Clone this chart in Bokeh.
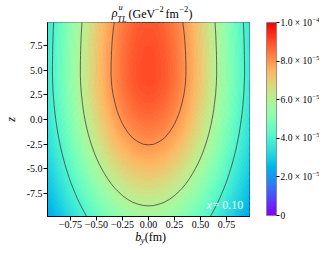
import math
import numpy as np
from bokeh.plotting import figure
from bokeh.plotting.contour import contour_data
from bokeh.models import Range1d, FixedTicker, ColorBar, LinearColorMapper, Label
from bokeh.embed import file_html
from bokeh.resources import INLINE

# ---- data (density in units of 1e-5 GeV^-2 fm^-2) ----
b_y = [-1.0, -0.95, -0.9, -0.85, -0.8, -0.75, -0.7, -0.65, -0.6, -0.55, -0.5,
       -0.45, -0.4, -0.35, -0.3, -0.25, -0.2, -0.15, -0.1, -0.05, 0.0,
       0.05, 0.1, 0.15, 0.2, 0.25, 0.3, 0.35, 0.4, 0.45, 0.5,
       0.55, 0.6, 0.65, 0.7, 0.75, 0.8, 0.85, 0.9, 0.95, 1.0]
rel_by = [0.382, 0.420, 0.459, 0.499, 0.540, 0.582, 0.624, 0.666, 0.708, 0.748, 0.787,
          0.823, 0.857, 0.889, 0.917, 0.942, 0.962, 0.979, 0.990, 0.998, 1.0,
          0.998, 0.990, 0.979, 0.962, 0.942, 0.917, 0.889, 0.857, 0.823, 0.787,
          0.748, 0.708, 0.666, 0.624, 0.582, 0.540, 0.499, 0.459, 0.420, 0.382]
z_vals = [-10, -9.5, -9, -8.5, -8, -7.5, -7, -6.5, -6, -5.5, -5, -4.5, -4, -3.5, -3,
          -2.5, -2, -1.5, -1, -0.5, 0, 0.5, 1, 1.5, 2, 2.5, 3, 3.5, 4, 4.5, 5,
          5.5, 6, 6.5, 7, 7.5, 8, 8.5, 9, 9.5, 10]
rho_b0 = [5.55, 5.74, 5.92, 6.10, 6.28, 6.45, 6.63, 6.80, 6.97, 7.13, 7.29, 7.45, 7.60, 7.75, 7.89,
          8.02, 8.15, 8.27, 8.38, 8.48, 8.58, 8.67, 8.75, 8.82, 8.88, 8.94, 8.98, 9.02, 9.04, 9.06, 9.06,
          9.06, 9.05, 9.04, 9.03, 9.01, 8.99, 8.97, 8.94, 8.91, 8.87]
line_levels = [4.0, 6.0, 8.0]
x_ticks = [-0.75, -0.5, -0.25, 0.0, 0.25, 0.5, 0.75]
x_tick_labels = ["\u22120.75", "\u22120.50", "\u22120.25", "0.00", "0.25", "0.50", "0.75"]
y_ticks = [-7.5, -5.0, -2.5, 0.0, 2.5, 5.0, 7.5]
y_tick_labels = ["-7.5", "-5.0", "-2.5", "0.0", "2.5", "5.0", "7.5"]
cb_ticks = [0, 2, 4, 6, 8, 10]
cb_mantissa = ["0", "2.0 \u00d7 10", "4.0 \u00d7 10", "6.0 \u00d7 10", "8.0 \u00d7 10", "1.0 \u00d7 10"]
cb_exponent = ["", "\u22125", "\u22125", "\u22125", "\u22125", "\u22124"]
title_parts = ["\u03c1", "u", "TL", "(GeV", "\u22122", "fm", "\u22122", ")"]
x_label_parts = ["b", "y", "(fm)"]
y_label = "z"
x_value_parts = ["x", "= 0.10"]

FONT = "Liberation Serif"
FIG_W, FIG_H = 319, 245
LEFT, TOP, FRAME_W, FRAME_H = 41, 22, 208, 194
MID_K = 0.35   # baseline minus vertical centre of a text box, in font sizes


def rainbow(t):
    t = min(max(t, 0.0), 1.0)
    r = min(max(abs(2 * t - 0.5), 0.0), 1.0)
    g = min(max(math.sin(math.pi * t), 0.0), 1.0)
    b = min(max(math.cos(math.pi * t / 2), 0.0), 1.0)
    return "#%02x%02x%02x" % (int(round(r * 255)), int(round(g * 255)), int(round(b * 255)))


grid = np.outer(np.array(rho_b0), np.array(rel_by))

p = figure(width=FIG_W, height=FIG_H, output_backend="svg", toolbar_location=None,
           x_range=Range1d(-0.97, 0.97), y_range=Range1d(-9.86, 9.86),
           min_border_left=LEFT, min_border_right=FIG_W - LEFT - FRAME_W,
           min_border_top=TOP, min_border_bottom=FIG_H - TOP - FRAME_H)
p.title.visible = False
p.background_fill_color = "white"
p.border_fill_color = "white"
p.outline_line_color = "black"
p.outline_line_width = 1
p.grid.visible = False

# filled field
fill_levels = list(np.linspace(0, 10, 121))
cd = contour_data(np.array(b_y), np.array(z_vals), grid, fill_levels, want_fill=True, want_line=False)
fd = cd.fill_data
band_colors = [rainbow((lo + up) / 20.0) for lo, up in zip(fd.lower_levels, fd.upper_levels)]
p.multi_polygons(xs=fd.xs, ys=fd.ys, fill_color=band_colors, line_color=band_colors, line_width=0.8)
# contour lines
p.contour(np.array(b_y), np.array(z_vals), grid, line_levels, fill_color=None,
          line_color="#2a2a2a", line_width=0.8, line_alpha=0.85)

# main axes
for ax, ticks, labels, so in ((p.xaxis[0], x_ticks, x_tick_labels, 0), (p.yaxis[0], y_ticks, y_tick_labels, 1)):
    ax.ticker = FixedTicker(ticks=ticks)
    ax.major_label_overrides = dict(zip(ticks, labels))
    ax.major_tick_out = 4
    ax.major_tick_in = 0
    ax.minor_tick_line_color = None
    ax.major_tick_line_color = "black"
    ax.axis_line_color = "black"
    ax.major_label_text_font = FONT
    ax.major_label_text_font_size = "10px"
    ax.major_label_text_color = "black"
    ax.major_label_standoff = so

p.yaxis[0].axis_label = y_label
p.yaxis[0].axis_label_text_font = FONT
p.yaxis[0].axis_label_text_font_size = "12px"
p.yaxis[0].axis_label_text_font_style = "italic"
p.yaxis[0].axis_label_text_color = "black"
p.yaxis[0].axis_label_standoff = 6

# colour bar
CB_X, CB_Y, CB_W, CB_H = FRAME_W + 11, 1, 10, FRAME_H - 1
mapper = LinearColorMapper(palette=[rainbow(i / 255.0) for i in range(256)], low=0, high=10)
cb = ColorBar(color_mapper=mapper, location=(CB_X, CB_Y), width=CB_W, height=CB_H,
              padding=0, margin=0, ticker=FixedTicker(ticks=cb_ticks),
              major_label_overrides=dict(zip(cb_ticks, cb_mantissa)),
              major_label_text_font=FONT, major_label_text_font_size="9.5px",
              major_label_text_color="black",
              major_tick_out=3, major_tick_in=0, major_tick_line_color="black",
              minor_tick_line_color=None, label_standoff=1,
              bar_line_color="#808080", bar_line_width=0.8,
              background_fill_color=None, border_line_color=None)
p.add_layout(cb, "center")
cb_exp = ColorBar(color_mapper=mapper, location=(CB_X, CB_Y + 3), width=CB_W, height=CB_H,
                  padding=0, margin=0, ticker=FixedTicker(ticks=cb_ticks),
                  major_label_overrides=dict(zip(cb_ticks, cb_exponent)),
                  major_label_text_font=FONT, major_label_text_font_size="6.5px",
                  major_label_text_color="black", scale_alpha=0.0,
                  major_tick_out=0, major_tick_in=0, major_tick_line_color=None,
                  minor_tick_line_color=None, label_standoff=36,
                  bar_line_color=None, background_fill_color=None, border_line_color=None)
p.add_layout(cb_exp, "center")

# free texts outside the frame: one left-aligned label per piece, hung on an invisible colour bar
blank = LinearColorMapper(palette=["#ffffff"], low=0, high=2)


def put_text(text, left, baseline, size, style="normal"):
    # left, baseline in canvas pixels
    mid = baseline - MID_K * size
    loc_x = left - 1 - LEFT
    loc_y = (TOP + FRAME_H) - mid - 1
    t = ColorBar(color_mapper=blank, location=(loc_x, loc_y), width=1, height=2,
                 padding=0, margin=0, ticker=FixedTicker(ticks=[1]),
                 major_label_overrides={1: text},
                 major_label_text_font=FONT, major_label_text_font_size="%gpx" % size,
                 major_label_text_font_style=style, major_label_text_color="black",
                 scale_alpha=0.0, major_tick_out=0, major_tick_in=0,
                 major_tick_line_color=None, minor_tick_line_color=None, label_standoff=0,
                 bar_line_color=None, background_fill_color=None, border_line_color=None)
    p.add_layout(t, "center")


# title  rho^u_TL (GeV^-2 fm^-2)
title_layout = [(105.2, 16.5, 12, "italic"), (112.0, 6.8, 8.5, "italic"), (110.7, 21.5, 8.5, "italic"),
                (122.0, 17.3, 12, "normal"), (148.3, 11.7, 8.5, "normal"), (158.9, 17.3, 12, "normal"),
                (172.7, 11.7, 8.5, "normal"), (182.0, 17.3, 12, "normal")]
for txt, (lx, by, fs, st) in zip(title_parts, title_layout):
    put_text(txt, lx, by, fs, st)

# x label  b_y (fm)
xlab_layout = [(128.8, 240.5, 12, "italic"), (134.3, 242.6, 8.5, "italic"), (138.2, 240.5, 12, "normal")]
for txt, (lx, by, fs, st) in zip(x_label_parts, xlab_layout):
    put_text(txt, lx, by, fs, st)

# annotation x = 0.10 (inside the frame)
for txt, dx, style in zip(x_value_parts, (-49, -43), ("italic", "normal")):
    p.add_layout(Label(x=FRAME_W + dx, y=12.0, x_units="screen", y_units="screen", text=txt,
                       text_font=FONT, text_font_size="12px", text_font_style=style,
                       text_color="white", text_align="left", text_baseline="alphabetic"))

open("out.html", "w").write(file_html(p, INLINE))
